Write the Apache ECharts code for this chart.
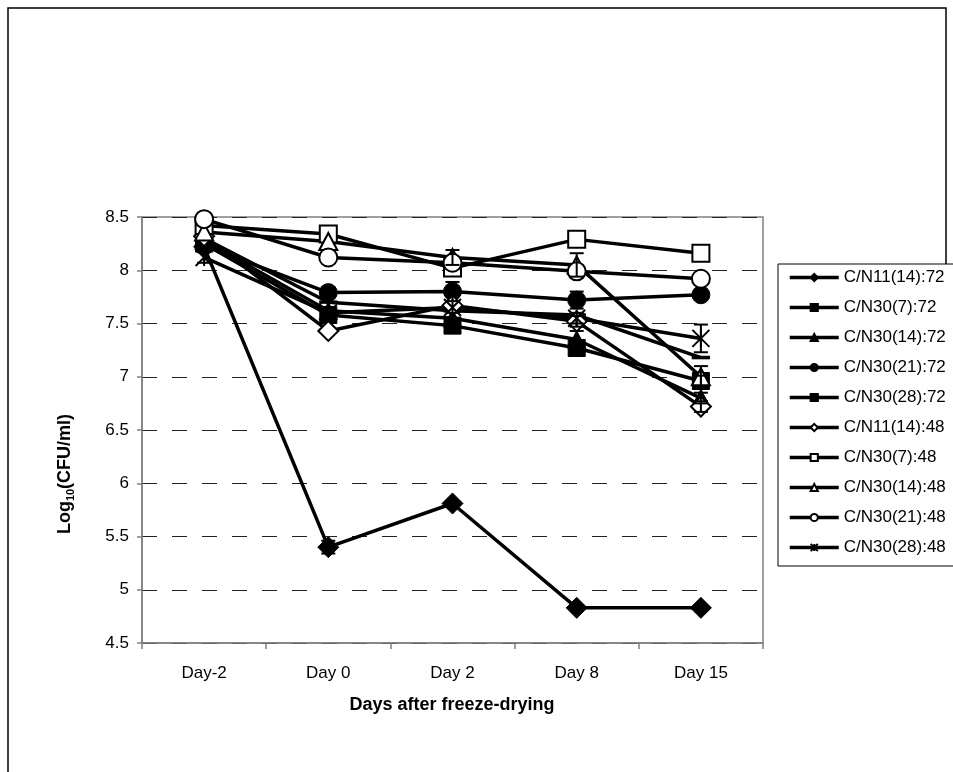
<!DOCTYPE html>
<html><head><meta charset="utf-8">
<script src="https://cdn.jsdelivr.net/npm/echarts@6/dist/echarts.min.js"></script>
<style>html,body{margin:0;padding:0;background:#fff}#c{width:953px;height:772px}</style>
</head><body><div id="c"></div>
<script>
// ---- data ----
const categories = ['Day-2', 'Day 0', 'Day 2', 'Day 8', 'Day 15'];
const seriesNames = ['C/N11(14):72', 'C/N30(7):72', 'C/N30(14):72', 'C/N30(21):72', 'C/N30(28):72',
                     'C/N11(14):48', 'C/N30(7):48', 'C/N30(14):48', 'C/N30(21):48', 'C/N30(28):48'];
const cn11_14_72 = [8.22, 5.40, 5.81, 4.83, 4.83];
const cn30_7_72  = [8.25, 7.58, 7.48, 7.27, 6.96];
const cn30_14_72 = [8.28, 7.62, 7.55, 7.35, 6.80];
const cn30_21_72 = [8.23, 7.79, 7.80, 7.72, 7.77];
const cn30_28_72 = [8.30, 7.70, 7.62, 7.58, 7.18];
const cn11_14_48 = [8.32, 7.43, 7.67, 7.52, 6.72];
const cn30_7_48  = [8.42, 8.34, 8.02, 8.29, 8.16];
const cn30_14_48 = [8.36, 8.27, 8.12, 8.05, 7.00];
const cn30_21_48 = [8.48, 8.12, 8.07, 7.99, 7.92];
const cn30_28_48 = [8.12, 7.60, 7.65, 7.55, 7.36];
// error bar half-lengths
const err_cn11_14_72 = [0, 0.06, 0, 0, 0];
const err_cn30_7_72  = [0, 0, 0, 0, 0.05];
const err_cn30_14_72 = [0, 0, 0.05, 0.08, 0.05];
const err_cn30_21_72 = [0, 0.05, 0.09, 0.08, 0];
const err_cn30_28_72 = [0, 0, 0, 0, 0];
const err_cn11_14_48 = [0, 0, 0, 0.05, 0.05];
const err_cn30_7_48  = [0, 0, 0, 0, 0];
const err_cn30_14_48 = [0, 0, 0.07, 0.11, 0.10];
const err_cn30_21_48 = [0, 0, 0, 0, 0];
const err_cn30_28_48 = [0.05, 0, 0, 0.05, 0.13];
const yMin = 4.5, yMax = 8.5, yStep = 0.5;

// ---- styling ----
const FONT = "'Liberation Sans', Arial, sans-serif";
const values = [cn11_14_72, cn30_7_72, cn30_14_72, cn30_21_72, cn30_28_72,
                cn11_14_48, cn30_7_48, cn30_14_48, cn30_21_48, cn30_28_48];
const errors = [err_cn11_14_72, err_cn30_7_72, err_cn30_14_72, err_cn30_21_72, err_cn30_28_72,
                err_cn11_14_48, err_cn30_7_48, err_cn30_14_48, err_cn30_21_48, err_cn30_28_48];
const STAR = 'path://M0,0L20,20M20,0L0,20M10,0L10,20';
const markers = [
  {symbol: 'diamond', size: [21, 21], filled: true},
  {symbol: 'rect', size: [17, 17], filled: true},
  {symbol: 'triangle', size: [18, 17], filled: true},
  {symbol: 'circle', size: 18, filled: true},
  {symbol: 'rect', size: [16, 3], filled: true},
  {symbol: 'diamond', size: [20, 20], filled: false},
  {symbol: 'rect', size: [17, 17], filled: false},
  {symbol: 'triangle', size: [18, 17], filled: false},
  {symbol: 'circle', size: 18, filled: false},
  {symbol: STAR, size: [17, 17], star: true}
];

const series = values.map((v, i) => {
  const m = markers[i];
  const itemStyle = m.star
    ? {color: 'rgba(0,0,0,0)', borderColor: '#000', borderWidth: 2}
    : (m.filled ? {color: '#000', borderColor: '#000', borderWidth: 1}
                : {color: '#fff', borderColor: '#000', borderWidth: 2});
  return {
    name: seriesNames[i], type: 'line', data: v,
    symbol: m.symbol, symbolSize: m.size, showAllSymbol: true,
    lineStyle: {color: '#000', width: 3.5},
    itemStyle: itemStyle,
    emphasis: {disabled: true}, animation: false, z: 3
  };
});

const errData = [];
values.forEach((v, i) => v.forEach((y, k) => { if (errors[i][k] > 0) errData.push([k, y, errors[i][k]]); }));
series.push({
  type: 'custom', name: 'err', data: errData, z: 4, animation: false,
  encode: {x: 0, y: 1},
  renderItem: function (params, api) {
    const x = api.value(0), y = api.value(1), e = api.value(2);
    const top = api.coord([x, y + e]), bot = api.coord([x, y - e]);
    const w = 7, st = {stroke: '#000', lineWidth: 2};
    return {type: 'group', children: [
      {type: 'line', shape: {x1: top[0], y1: top[1], x2: bot[0], y2: bot[1]}, style: st},
      {type: 'line', shape: {x1: top[0] - w, y1: top[1], x2: top[0] + w, y2: top[1]}, style: st},
      {type: 'line', shape: {x1: bot[0] - w, y1: bot[1], x2: bot[0] + w, y2: bot[1]}, style: st}
    ]};
  }
});

const chart = echarts.init(document.getElementById('c'), null, {renderer: 'canvas'});
chart.setOption({
  backgroundColor: '#fff',
  animation: false,
  textStyle: {fontFamily: FONT},
  grid: {left: 142, right: 190, top: 217, bottom: 129, show: true, borderColor: '#808080', borderWidth: 1.5},
  xAxis: {
    type: 'category', data: categories, boundaryGap: true,
    axisLine: {lineStyle: {color: '#808080', width: 1.5}},
    axisTick: {show: true, length: 6, lineStyle: {color: '#808080', width: 1.5}},
    axisLabel: {color: '#000', fontSize: 17, fontFamily: FONT, margin: 22},
    splitLine: {show: false}
  },
  yAxis: {
    type: 'value', min: yMin, max: yMax, interval: yStep,
    axisLine: {show: true, lineStyle: {color: '#808080', width: 1.5}},
    axisTick: {show: true, length: 5, lineStyle: {color: '#808080', width: 1.5}},
    axisLabel: {color: '#000', fontSize: 17, fontFamily: FONT, margin: 13},
    splitLine: {show: true, lineStyle: {color: '#222', width: 1, type: [15, 15]}}
  },
  legend: {
    data: seriesNames, orient: 'vertical', left: 778, top: 264,
    backgroundColor: '#fff', borderColor: '#000', borderWidth: 1,
    padding: [5, 20, 10, 10], itemWidth: 49, itemHeight: 9, itemGap: 13,
    lineStyle: {width: 3.5, color: '#000'},
    textStyle: {fontSize: 17, color: '#000', fontFamily: FONT, lineHeight: 17, padding: [0, 0, 0, 0]},
    selectedMode: false
  },
  graphic: [
    {type: 'polyline', silent: true, z: 0, shape: {points: [[8, 800], [8, 8], [946, 8], [946, 264]]},
     style: {stroke: '#000', lineWidth: 1.5, fill: null}},
    {type: 'text', x: 452, y: 705, silent: true,
     style: {text: 'Days after freeze-drying', font: "bold 18px " + FONT, fill: '#000', align: 'center', verticalAlign: 'middle'}},
    {type: 'text', x: 65, y: 474, rotation: Math.PI / 2, silent: true,
     style: {text: '{n|Log}{s|10}{n|(CFU/ml)}', align: 'center', verticalAlign: 'middle', fill: '#000',
       rich: {
         n: {fontSize: 18, fontWeight: 'bold', fontFamily: FONT, lineHeight: 22, verticalAlign: 'middle'},
         s: {fontSize: 11, fontWeight: 'bold', fontFamily: FONT, lineHeight: 22, verticalAlign: 'bottom'}
       }}}
  ],
  series: series
});
</script>
</body></html>
